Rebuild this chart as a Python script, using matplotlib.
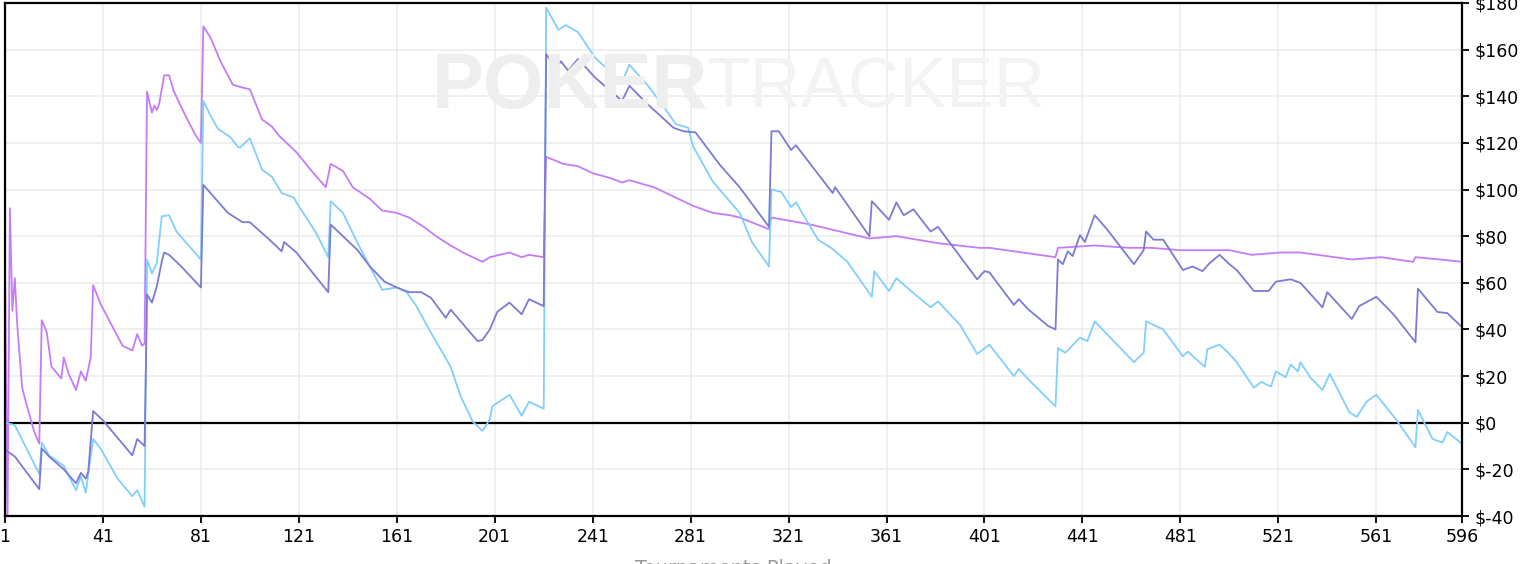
import matplotlib
matplotlib.use("Agg")
import matplotlib.pyplot as plt
from matplotlib import font_manager

# ---------------- data ----------------
x_ticks = [1, 41, 81, 121, 161, 201, 241, 281, 321, 361, 401, 441, 481, 521, 561, 596]
y_ticks = [-40, -20, 0, 20, 40, 60, 80, 100, 120, 140, 160, 180]
y_tick_labels = ["$" + str(v) for v in y_ticks]

purple_hands = [1, 2, 3, 4, 5, 6, 8, 10, 13, 15, 16, 18, 20, 24, 25, 27, 30, 32, 34, 36,
                37, 40, 45, 49, 53, 55, 57, 58, 59, 61, 62, 63, 64, 66, 68, 70, 75, 79, 81, 82,
                85, 89, 94, 97, 101, 106, 110, 113, 120, 127, 132, 134, 139, 143, 150, 155, 161,
                166, 172, 177, 183, 188, 194, 196, 199, 207, 212, 215, 221, 222, 229, 235, 241,
                248, 253, 256, 266, 274, 282, 290, 297, 301, 313, 314, 330, 354, 365, 382, 399,
                403, 430, 431, 446, 460, 469, 481, 501, 510, 522, 530, 551, 563, 576, 577, 587, 596]
purple_vals = [69, -45, 92, 48, 62, 42, 15, 7, -4, -9, 44, 39, 24, 19, 28, 21, 14, 22, 18, 28,
               59, 51, 41, 33, 31, 38, 33, 34, 142, 133, 136, 134, 137, 149, 149, 142, 131, 123, 120, 170,
               165, 155, 145, 144, 143, 130, 127, 123, 116, 107, 101, 111, 108, 101, 96, 91, 90,
               88, 84, 80, 76, 73, 70, 69, 71, 73, 71, 72, 71, 114, 111, 110, 107,
               105, 103, 104, 101, 97, 93, 90, 89, 88, 83, 88, 85, 79, 80, 77, 75,
               75, 71, 75, 76, 75, 75, 74, 74, 72, 73, 73, 70, 71, 69, 71, 70, 69]

dark_hands = [1, 5, 15, 16, 19, 25, 30, 32, 34, 35, 37, 41, 53, 55, 58, 59, 61, 63, 65, 66,
              68, 73, 81, 82, 92, 98, 101, 109, 114, 115, 120, 133, 134, 145, 150, 156, 161, 166,
              171, 175, 181, 183, 194, 196, 199, 202, 207, 212, 215, 221, 222, 226, 228, 231, 235,
              242, 253, 256, 263, 274, 278, 283, 293, 301, 313, 314, 317, 322, 324, 339, 340, 354,
              355, 362, 365, 368, 372, 379, 382, 398, 401, 403, 413, 415, 419, 427, 430, 431, 433,
              435, 437, 440, 442, 446, 451, 462, 466, 467, 470, 474, 482, 486, 490, 493, 497, 501,
              504, 511, 517, 520, 526, 530, 539, 541, 551, 554, 561, 568, 577, 578, 586, 590, 596]
dark_vals = [-11.5, -14.5, -28.5, -11, -14.5, -20, -26, -21.5, -24, -21, 5, 1, -14, -7, -10, 55, 51.5, 58.5, 69, 73,
             72, 67, 58, 102, 90, 86, 86, 78.5, 73.5, 77.5, 73, 56, 85, 74, 67, 60.5, 58, 56,
             56, 53.5, 45, 48.5, 35, 35.5, 40, 47.5, 51.5, 46.5, 53, 50, 158, 152, 155, 151, 156,
             148, 138, 144.5, 137, 126.5, 125, 124.5, 110.5, 101, 84, 125, 125, 117, 119, 98.5, 101, 80,
             95, 87, 94.5, 89, 91.5, 82, 84, 61.5, 65, 64.5, 50.5, 53, 48.5, 41.5, 40, 70, 68,
             73.5, 71.5, 80.5, 77.5, 89, 83, 68, 74, 82, 78.5, 78.5, 65.5, 67, 65, 68.5, 72, 68,
             65.5, 56.5, 56.5, 60.5, 61.5, 60, 49.5, 56, 44.5, 50, 54, 46.5, 34.5, 57.5, 47.5, 47, 41]

light_hands = [1, 5, 10, 15, 16, 19, 25, 30, 32, 34, 35, 37, 40, 47, 53, 55, 58, 59, 61, 63,
               65, 68, 71, 81, 82, 85, 88, 93, 96, 97, 101, 106, 110, 114, 119, 120, 128, 133, 134,
               139, 145, 150, 155, 161, 165, 169, 175, 183, 187, 192, 196, 199, 200, 207, 212, 215,
               221, 222, 227, 230, 235, 242, 253, 256, 264, 271, 275, 280, 282, 290, 301, 306, 313,
               314, 318, 322, 324, 333, 339, 345, 355, 356, 362, 365, 371, 379, 382, 391, 398, 403,
               413, 415, 419, 430, 431, 434, 440, 443, 446, 462, 466, 467, 474, 482, 484, 491, 492,
               497, 501, 504, 511, 514, 518, 520, 524, 526, 529, 530, 534, 539, 542, 550, 553, 557,
               561, 569, 577, 578, 584, 588, 590, 596]
light_vals = [0, -1, -11.5, -22, -8.5, -14, -18.5, -29, -23, -30, -22, -7, -11, -24, -31.5, -29, -36, 70, 64, 68.5,
              88.5, 89, 82, 70, 138, 131.5, 126, 122.5, 118.5, 118, 122, 108.5, 105.5, 98.5, 96.5, 94.5, 81.5, 71, 95,
              90, 77, 67, 57, 58, 56, 50, 38.5, 24, 11.5, 0.5, -3.5, 1.5, 7, 12, 3, 9,
              6, 178, 168.5, 170.5, 167.5, 156.5, 146, 153.5, 144, 134, 128, 126.5, 118.5, 103.5, 90, 77.5, 67,
              100, 99, 92.5, 94.5, 78.5, 74.5, 69, 54, 65, 56.5, 62, 56.5, 49.5, 52, 42, 29.5, 33.5,
              20, 23, 18.5, 7, 32, 30, 36.5, 35, 43.5, 26, 30, 43.5, 40, 28.5, 30.5, 24, 31.5,
              33.5, 29.5, 26, 15, 17.5, 15.5, 22, 19.5, 25, 22, 26, 19.5, 14, 21, 4.5, 2.5, 9,
              12, 1.5, -10.5, 5.5, -7, -8.5, -4, -9]

# ---------------- figure ----------------
W, H = 1530, 564
fig = plt.figure(figsize=(W / 100, H / 100), dpi=100)
fig.patch.set_facecolor("white")
ax = fig.add_axes([5 / W, 1 - 516 / H, (1462 - 5) / W, (516 - 3) / H])
ax.set_xlim(1, 596)
ax.set_ylim(-40, 180)

# watermark
names = {f.name for f in font_manager.fontManager.ttflist}
if "Liberation Sans Narrow" in names:
    wm_family, wm_size1, wm_size2 = "Liberation Sans Narrow", 64, 64
else:
    wm_family, wm_size1, wm_size2 = "Liberation Sans", 56, 51
fig.text(432 / W, 1 - 108 / H, "POKER", fontsize=wm_size1, fontweight="bold",
         family=wm_family, color="#eeeeee", ha="left", va="baseline", zorder=0)
fig.text(706 / W, 1 - 108 / H, "TRACKER", fontsize=wm_size2, fontweight="normal",
         family=wm_family, color="#f3f3f3", ha="left", va="baseline", zorder=0)
ax.patch.set_alpha(0)

ax.grid(True, color="#ececec", linewidth=1.2, zorder=0.5)
ax.set_axisbelow(True)
ax.axhline(0, color="black", linewidth=1.6, zorder=1.5)

ax.plot(purple_hands, purple_vals, color="#c57cf7", linewidth=1.3, zorder=2)
ax.plot(dark_hands, dark_vals, color="#7b7bd3", linewidth=1.3, zorder=2.2)
ax.plot(light_hands, light_vals, color="#80cffd", linewidth=1.3, zorder=2.1)

ax.set_xticks(x_ticks)
ax.set_xticklabels([str(v) for v in x_ticks])
ax.set_yticks(y_ticks)
ax.set_yticklabels(y_tick_labels)
ax.yaxis.tick_right()
ax.tick_params(axis="y", direction="out", length=5, width=1.3, pad=4,
               labelsize=12.5, right=True, left=False, labelright=True, labelleft=False)
ax.tick_params(axis="x", direction="out", length=5, width=1.3, pad=4, labelsize=12.5)
for s in ax.spines.values():
    s.set_color("black")
    s.set_linewidth(1.6)

fig.text(733 / W, 1 - 559 / H, "Tournaments Played", fontsize=14, color="#999999",
         ha="center", va="top")

fig.savefig("out.png", dpi=100)
